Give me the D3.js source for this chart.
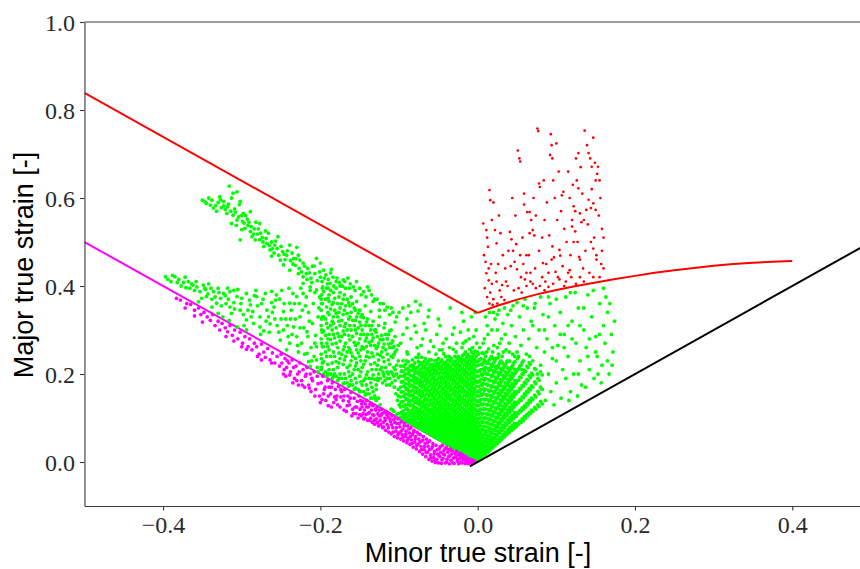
<!DOCTYPE html>
<html><head><meta charset="utf-8">
<script src="https://cdn.jsdelivr.net/npm/d3@7"></script>
<style>html,body{margin:0;padding:0;background:#fff;overflow:hidden}</style>
</head><body><svg id="chart" width="860" height="569"></svg>
<script>
// ---------- DATA ----------
const xTicks = [-0.4, -0.2, 0.0, 0.2, 0.4];
const yTicks = [0.0, 0.2, 0.4, 0.6, 0.8, 1.0];
const xLabel = "Minor true strain [-]";
const yLabel = "Major true strain [-]";

// forming limit curve (red)
const flcLeft = [[-0.5, 0.839], [0.0, 0.339]];
const flcRight = [[0,.339],[.025,.355],[.05,.369],[.075,.381],[.1,.391],[.125,.4],[.15,.408],[.175,.416],[.2,.423],[.225,.43],[.25,.436],[.275,.441],[.3,.446],[.325,.45],[.35,.453],[.375,.455],[.4,.457]];
// compression limit line (magenta) and biaxial line (black)
const magentaLine = [[-0.5, 0.5], [0.0, 0.0]];
const blackLine = [[-0.01, -0.01], [0.5, 0.5]];

// red points (above FLC)
const redPoints = [[.011,.429],[.014,.413],[.013,.489],[.012,.51],[.011,.527],[.007,.542],[.015,.618],[.016,.595],[.02,.59],[.022,.527],[.024,.497],[.026,.45],[.008,.47],[.01,.455],[.009,.395],[.012,.375],[.016,.385],[.02,.37],[.018,.405],[.024,.41],[.028,.39],[.03,.375],[.034,.368],[.031,.402],[.025,.36],[.015,.36],[.019,.357],[.036,.41],[.038,.4],[.046,.39],[.041,.523],[.043,.506],[.045,.48],[.049,.495],[.051,.708],[.054,.683],[.053,.69],[.057,.51],[.059,.61],[.059,.585],[.063,.568],[.055,.42],[.06,.415],[.042,.445],[.047,.455],[.05,.438],[.052,.395],[.056,.385],[.062,.4],[.066,.568],[.068,.55],[.07,.527],[.072,.515],[.065,.47],[.067,.43],[.07,.405],[.074,.395],[.076,.758],[.077,.752],[.078,.633],[.079,.625],[.079,.4],[.083,.452],[.085,.39],[.087,.45],[.082,.42],[.086,.41],[.09,.398],[.091,.515],[.093,.745],[.094,.72],[.092,.698],[.095,.49],[.097,.465],[.099,.432],[.1,.724],[.096,.405],[.102,.42],[.104,.482],[.105,.469],[.104,.415],[.107,.606],[.109,.614],[.108,.445],[.112,.41],[.115,.66],[.115,.43],[.117,.436],[.119,.42],[.12,.55],[.12,.535],[.122,.5],[.122,.581],[.124,.57],[.124,.524],[.125,.69],[.127,.5],[.128,.702],[.128,.622],[.129,.466],[.13,.46],[.13,.42],[.13,.565],[.132,.545],[.126,.64],[.133,.61],[.135,.55],[.136,.753],[.138,.573],[.141,.702],[.141,.596],[.144,.577],[.144,.5],[.145,.671],[.147,.737],[.147,.588],[.147,.485],[.147,.42],[.148,.51],[.15,.573],[.151,.47],[.151,.46],[.153,.671],[.152,.655],[.155,.64],[.149,.68],[.143,.69],[.139,.72],[.156,.6],[.154,.56],[.158,.53],[.157,.45],[.16,.44],[.14,.54],[.137,.48],[.134,.44],[.118,.47],[.113,.5],[.11,.53],[.106,.57],[.101,.55],[.098,.6],[.096,.64],[.088,.59],[.085,.55],[.082,.51],[.078,.48],[.074,.56],[.071,.6],[.066,.52],[.062,.47],[.058,.45],[.054,.47],[.048,.56],[.044,.6],[.039,.48],[.035,.44],[.032,.47],[.029,.52],[.027,.56],[.018,.55],[.017,.45],[.014,.44],[.023,.43],[.062,.43],[.067,.41],[.073,.44],[.09,.43],[.094,.46],[.11,.40],[.125,.405],[.135,.41],[.142,.43],[.155,.42],[.158,.48],[.16,.51],[.145,.62],[.15,.64],[.131,.67],[.121,.63],[.117,.6],[.103,.66],[.095,.69],[.084,.64]];

// magenta points (below compression line)
const magentaPoints = [[-.383,.372],[-.378,.368],[-.37,.36],[-.372,.35],[-.365,.358],[-.36,.345],[-.355,.35],[-.352,.335],[-.348,.34],[-.344,.33],[-.34,.322],[-.337,.335],[-.334,.31],[-.33,.32],[-.328,.3],[-.325,.315],[-.321,.305],[-.318,.296],[-.315,.31],[-.312,.288],[-.309,.3],[-.305,.28],[-.302,.295],[-.299,.27],[-.296,.285],[-.292,.262],[-.29,.28],[-.287,.255],[-.284,.27],[-.281,.262],[-.278,.245],[-.275,.268],[-.272,.25],[-.27,.238],[-.267,.258],[-.264,.232],[-.261,.248],[-.258,.225],[-.255,.24],[-.252,.218],[-.25,.245],[-.35,.318],[-.32,.285],[-.3,.262],[-.28,.24],[-.262,.225],[-.36,.332],[-.31,.275],[-.294,.256],[-.275,.232],
[-.247,.2],[-.245,.235],[-.243,.215],[-.24,.225],[-.238,.205],[-.236,.232],[-.233,.19],[-.231,.218],[-.229,.2],[-.226,.225],[-.224,.185],[-.222,.21],[-.219,.195],[-.217,.215],[-.215,.175],[-.213,.2],[-.21,.185],[-.208,.205],[-.206,.165],[-.204,.195],[-.201,.15],[-.199,.18],[-.197,.195],[-.195,.165],[-.193,.14],[-.191,.185],[-.189,.17],[-.187,.155],[-.185,.18],[-.183,.135],[-.181,.165],[-.179,.15],[-.177,.172],[-.175,.125],[-.173,.16],[-.171,.14],[-.169,.165],[-.167,.115],[-.165,.15],[-.163,.13],[-.161,.158],[-.159,.12],[-.157,.145],[-.155,.11],[-.153,.138],[-.151,.15],[-.228,.175],[-.212,.16],[-.2,.135],[-.19,.128],[-.18,.142],[-.17,.118],[-.16,.105],[-.235,.18],[-.244,.195],[-.22,.17],[-.196,.155],[-.186,.125],[-.174,.148],[-.164,.138],[-.156,.125],[-.152,.1],
[-.249,.225],[-.246,.21],[-.242,.23],[-.239,.198],[-.234,.215],[-.23,.185],[-.227,.205],[-.223,.175],[-.218,.2],[-.214,.168],[-.211,.19],[-.207,.15],[-.203,.178],[-.198,.142],[-.194,.17],[-.19,.15],[-.186,.17],[-.182,.148],[-.178,.13],[-.174,.165],[-.17,.15],[-.166,.128],[-.162,.145],[-.158,.11],[-.154,.125],[-.15,.108],
[-.149,.14],[-.148,.105],[-.147,.125],[-.146,.138],[-.145,.098],[-.144,.118],[-.143,.132],[-.142,.108],[-.141,.14],[-.14,.095],[-.139,.125],[-.138,.112],[-.137,.132],[-.136,.1],[-.135,.118],[-.134,.09],[-.133,.128],[-.132,.106],[-.131,.086],[-.13,.12],[-.129,.098],[-.128,.125],[-.127,.11],[-.126,.082],[-.125,.118],[-.124,.095],[-.123,.105],[-.122,.12],[-.121,.078],[-.12,.09],[-.119,.112],[-.118,.1],[-.117,.072],[-.116,.115],[-.115,.085],[-.114,.102],[-.113,.068],[-.112,.11],[-.111,.092],[-.11,.064],[-.109,.105],[-.108,.078],[-.107,.096],[-.106,.058],[-.105,.1],[-.104,.07],[-.103,.088],[-.102,.055],[-.101,.098],[-.1,.066],[-.099,.08],[-.098,.052],[-.097,.092],[-.096,.062],[-.095,.075],[-.094,.048],[-.093,.088],[-.092,.058],[-.091,.07],[-.09,.044],[-.089,.082],[-.088,.054],[-.087,.066],[-.086,.04],[-.085,.078],[-.084,.05],[-.083,.062],[-.082,.034],[-.081,.072],[-.08,.045],[-.079,.058],[-.078,.03],[-.077,.068],[-.076,.04],[-.075,.052],[-.074,.024],[-.073,.062],[-.072,.035],[-.071,.048],[-.07,.018],[-.069,.058],[-.068,.028],[-.067,.042],[-.066,.012],[-.065,.052],[-.064,.022],[-.063,.036],[-.062,.006],[-.061,.048],[-.06,.016],[-.059,.03],[-.058,.002],[-.057,.042],[-.056,.01],[-.055,.024],[-.054,-.001],[-.053,.038],[-.052,.006],[-.051,.018],[-.05,-.002],
[-.1495,.12],[-.1475,.132],[-.1455,.11],[-.1435,.1],[-.1415,.125],[-.1395,.11],[-.1375,.095],[-.1355,.13],[-.1335,.108],[-.1315,.095],[-.1295,.118],[-.1275,.09],[-.1255,.105],[-.1235,.085],[-.1215,.11],[-.1195,.08],[-.1175,.095],[-.1155,.108],[-.1135,.078],[-.1115,.098],[-.1095,.085],[-.1075,.068],[-.1055,.09],[-.1035,.078],[-.1015,.062],[-.0995,.088],[-.0975,.07],[-.0955,.055],[-.0935,.082],[-.0915,.063],[-.0895,.05],[-.0875,.075],[-.0855,.058],[-.0835,.042],[-.0815,.068],[-.0795,.052],[-.0775,.038],[-.0755,.064],[-.0735,.045],[-.0715,.028],[-.0695,.05],[-.0675,.035],[-.0655,.022],[-.0635,.045],[-.0615,.028],[-.0595,.01],[-.0575,.035],[-.0555,.018],[-.0535,.004],[-.0515,.028],
[-.049,.03],[-.048,.012],[-.047,.022],[-.046,-.003],[-.045,.038],[-.044,.008],[-.043,.026],[-.042,.016],[-.041,-.002],[-.04,.034],[-.039,.006],[-.038,.022],[-.037,.012],[-.036,-.004],[-.035,.03],[-.034,.004],[-.033,.018],[-.032,.026],[-.031,.009],[-.03,-.003],[-.029,.02],[-.028,.012],[-.027,.024],[-.026,.002],[-.025,.016],[-.024,-.004],[-.023,.008],[-.022,.02],[-.021,.013],[-.02,-.002],[-.019,.016],[-.018,.006],[-.017,.01],[-.016,-.003],[-.015,.012],[-.014,.004],[-.013,.008],[-.012,-.004],[-.011,.006],[-.01,.002],[-.009,-.002],[-.008,.005],[-.007,.001],[-.006,-.003],[-.005,.003],
[-.0495,.015],[-.0475,.035],[-.0455,.005],[-.0435,.018],[-.0415,.03],[-.0395,.0],[-.0375,.028],[-.0355,.014],[-.0335,.026],[-.0315,-.002],[-.0295,.01],[-.0275,.022],[-.0255,.006],[-.0235,.018],[-.0215,.0],[-.0195,.01],[-.0175,.014],[-.0155,.004],[-.0135,-.002],[-.0115,.008],[-.0095,.004],[-.0075,-.001],[-.0045,.001]];

// green points, scattered parts
const greenPoints = [
[-.316,.627],[-.311,.611],[-.306,.614],[-.328,.603],[-.323,.592],[-.345,.588],[-.34,.584],[-.336,.577],[-.332,.57],[-.323,.582],[-.319,.565],[-.311,.561],[-.302,.592],[-.303,.585],[-.306,.55],[-.313,.542],[-.297,.543],[-.289,.569],[-.296,.531],[-.289,.524],[-.287,.512],[-.277,.542],[-.302,.505],[-.277,.505],[-.268,.497],[-.264,.482],[-.254,.512],[-.266,.52],[-.259,.475],[-.251,.459],[-.239,.493],[-.23,.488],[-.243,.47],[-.239,.436],[-.226,.459],[-.232,.447],[-.222,.421],[-.216,.44],[-.205,.463],[-.2,.452],[-.196,.436],[-.186,.438],[-.222,.406],[-.213,.398],[-.205,.391],[-.197,.398],[-.188,.406],[-.18,.41],[-.171,.414],[-.165,.418],[-.158,.398],[-.145,.387],[-.135,.38],[-.133,.365],[-.073,.357],[-.076,.343],[-.103,.33],[-.108,.34],
[-.35,.595],[-.342,.6],[-.33,.59],[-.326,.578],[-.318,.58],[-.314,.57],[-.309,.575],[-.3,.56],[-.293,.552],[-.298,.565],[-.307,.538],[-.3,.528],[-.292,.538],[-.284,.53],[-.28,.518],[-.283,.505],[-.274,.51],[-.27,.525],[-.262,.5],[-.258,.493],[-.272,.49],[-.262,.468],[-.255,.485],[-.248,.478],[-.245,.46],[-.247,.448],[-.236,.475],[-.234,.462],[-.228,.47],[-.222,.452],[-.218,.428],[-.228,.428],[-.21,.445],[-.212,.418],[-.207,.428],[-.2,.42],[-.193,.425],[-.19,.415],[-.184,.42],[-.192,.395],[-.175,.4],[-.168,.395],[-.162,.405],[-.154,.41],[-.15,.395],[-.14,.398],[-.128,.37],[-.12,.36],[-.115,.352],[-.095,.35],[-.085,.34],[-.079,.365],[-.063,.33],[-.068,.315],[-.09,.325],[-.112,.335],[-.125,.345],
[-.347,.592],[-.338,.595],[-.333,.583],[-.327,.596],[-.321,.574],[-.317,.586],[-.313,.6],[-.308,.568],[-.304,.557],[-.299,.547],[-.295,.56],[-.291,.545],[-.288,.535],[-.285,.518],[-.282,.545],[-.279,.53],[-.276,.52],[-.273,.5],[-.269,.508],[-.265,.492],[-.261,.485],[-.257,.502],[-.253,.47],[-.25,.49],[-.246,.472],[-.242,.48],[-.238,.458],[-.235,.45],[-.231,.462],[-.227,.44],[-.224,.432],[-.22,.445],[-.217,.415],[-.214,.43],[-.211,.408],[-.208,.445],[-.204,.412],[-.201,.432],[-.198,.41],[-.195,.418],[-.191,.405],[-.187,.43],[-.183,.4],[-.179,.418],[-.176,.408],[-.172,.4],[-.169,.41],[-.163,.395],[-.156,.39],[-.148,.38],[-.142,.375],[-.138,.39],[-.131,.37],[-.124,.36],[-.118,.345],[-.11,.35],
[-.397,.421],[-.385,.421],[-.39,.41],[-.374,.408],[-.362,.402],[-.366,.395],[-.349,.402],[-.353,.387],[-.336,.387],[-.345,.376],[-.355,.364],[-.332,.361],[-.323,.383],[-.315,.387],[-.306,.376],[-.294,.383],[-.315,.352],[-.302,.345],[-.289,.357],[-.281,.376],[-.27,.383],[-.256,.38],[-.262,.362],[-.268,.345],[-.277,.33],[-.294,.323],[-.306,.307],[-.294,.3],[-.277,.307],[-.264,.314],[-.258,.325],[-.247,.342],[-.239,.361],[-.23,.376],[-.222,.383],[-.219,.355],[-.226,.33],[-.234,.307],[-.247,.3],[-.251,.277],[-.239,.27],[-.23,.285],[-.217,.296],[-.21,.315],[-.205,.262],[-.217,.247],[-.228,.25],[-.243,.255],[-.205,.232],[-.213,.217],
[-.38,.415],[-.372,.42],[-.368,.41],[-.36,.39],[-.358,.41],[-.346,.392],[-.342,.405],[-.338,.37],[-.33,.395],[-.327,.372],[-.32,.36],[-.318,.395],[-.31,.39],[-.31,.362],[-.3,.372],[-.298,.335],[-.29,.368],[-.286,.342],[-.285,.315],[-.282,.39],[-.275,.36],[-.272,.298],[-.266,.33],[-.262,.388],[-.259,.352],[-.255,.31],[-.252,.37],[-.249,.39],[-.244,.325],[-.241,.285],[-.237,.345],[-.235,.383],[-.232,.325],[-.227,.36],[-.224,.27],[-.221,.305],[-.218,.375],[-.215,.34],[-.212,.26],[-.209,.36],[-.206,.288],[-.203,.33],[-.201,.375],[-.215,.228],[-.208,.24],[-.204,.215],[-.24,.395],[-.225,.395],[-.213,.39],[-.33,.338],[-.338,.352],[-.324,.33],[-.316,.322],
[-.394,.415],[-.388,.424],[-.382,.408],[-.377,.4],[-.371,.396],[-.364,.405],[-.357,.398],[-.351,.372],[-.347,.395],[-.343,.382],[-.339,.395],[-.334,.375],[-.329,.385],[-.326,.355],[-.321,.378],[-.317,.37],[-.313,.338],[-.309,.348],[-.305,.392],[-.301,.36],[-.297,.31],[-.292,.345],[-.288,.33],[-.284,.378],[-.28,.355],[-.276,.29],[-.273,.37],[-.269,.32],[-.265,.295],[-.261,.34],[-.257,.368],[-.253,.295],[-.25,.325],[-.246,.36],[-.242,.31],[-.238,.325],[-.236,.29],[-.233,.36],[-.229,.265],[-.226,.305],[-.223,.345],[-.22,.245],[-.216,.285],[-.214,.32],[-.211,.23],[-.207,.27],[-.203,.205],[-.202,.35],[-.207,.385],
[-.129,.165],[-.127,.185],[-.124,.19],[-.121,.18],[-.118,.185],[-.115,.19],[-.112,.175],[-.109,.18],[-.106,.17],[-.104,.155],[-.102,.14],[-.105,.185],[-.126,.145],[-.13,.145],[-.124,.13],[-.1,.13],[-.101,.165],[-.12,.2],[-.116,.175],
[-.125,.33],[-.118,.315],[-.11,.3],[-.105,.318],[-.098,.27],[-.095,.29],[-.09,.305],[-.085,.28],[-.08,.31],[-.078,.295],[-.072,.265],[-.07,.28],[-.066,.3],[-.06,.275],[-.056,.262],[-.052,.29],[-.048,.31],[-.045,.255],[-.04,.28],[-.036,.26],[-.03,.305],[-.027,.27],[-.022,.295],[-.018,.32],[-.015,.275],[-.012,.3],[-.008,.33],[-.005,.285],[-.003,.34],[-.1,.34],[-.088,.355],[-.062,.345],[-.05,.325],[-.035,.35],[-.02,.34],[-.115,.28],[-.108,.26],[-.13,.3],[-.09,.25],[-.075,.245],
[.01,.33],[.012,.31],[.015,.34],[.018,.3],[.02,.34],[.022,.325],[.025,.3],[.027,.345],[.03,.28],[.032,.315],[.035,.29],[.038,.335],[.04,.27],[.043,.31],[.045,.355],[.048,.285],[.05,.25],[.053,.33],[.055,.265],[.058,.3],[.06,.37],[.062,.245],[.065,.28],[.068,.32],[.07,.23],[.072,.35],[.075,.26],[.078,.3],[.08,.22],[.083,.335],[.085,.25],[.088,.28],[.09,.2],[.092,.36],[.095,.235],[.098,.31],[.1,.18],[.102,.265],[.105,.34],[.108,.21],[.11,.29],[.112,.375],[.115,.24],[.118,.16],[.12,.32],[.122,.2],[.125,.27],[.128,.35],[.13,.23],[.132,.175],[.135,.3],[.138,.26],[.14,.38],[.142,.21],[.145,.33],[.148,.19],[.15,.285],[.152,.24],[.155,.36],[.158,.22],[.16,.31],[.162,.27],[.165,.34],[.167,.2],[.17,.29],[.172,.25],[.174,.32],[.163,.375],[.168,.36],[.157,.18],[.153,.2],[.137,.17],[.127,.15],[.116,.14],[.106,.145],[.097,.13],[.093,.16],[.086,.14],[.076,.2],[.066,.24],[.056,.21],[.047,.24],[.036,.255],[.028,.27],[.063,.35],[.05,.362],[.034,.35],[.08,.375],[.1,.37],[.124,.385],[.147,.39],[.16,.395],[.118,.385],[.09,.375],[.073,.36],[.058,.355],[.042,.345],[.025,.335],[.1,.23],[.11,.26],[.12,.28],[.13,.31],[.085,.3],[.07,.31],[.09,.33],[.105,.29],[.115,.31],[.135,.35],[.142,.28],[.165,.23],[.171,.22],[.14,.24],[.15,.25],[.155,.29],[.128,.2],[.112,.19],[.095,.26]];

// green points, dense parts read column by column: [x, [y values]]
const greenColumns = [
[-.199,[.21,.245,.28,.31,.345,.37]],[-.196,[.2,.228,.262,.298,.33,.388]],[-.192,[.195,.24,.27,.315,.352]],[-.189,[.21,.255,.29,.335,.365,.38]],[-.185,[.19,.225,.268,.3,.32,.358]],[-.182,[.2,.24,.282,.345,.372]],[-.178,[.185,.215,.26,.292,.33,.36]],[-.175,[.2,.235,.275,.31,.35,.385]],[-.171,[.178,.222,.255,.298,.335,.37]],[-.168,[.19,.24,.27,.315,.355]],[-.164,[.172,.205,.26,.288,.325,.362]],[-.161,[.185,.23,.248,.3,.34,.375]],[-.157,[.165,.21,.272,.31,.35]],[-.154,[.18,.225,.255,.292,.33,.365]],[-.15,[.16,.195,.24,.28,.318,.345]],[-.147,[.175,.215,.262,.3,.335]],[-.143,[.152,.19,.23,.275,.31,.355]],[-.14,[.165,.205,.25,.29,.325]],[-.136,[.145,.18,.222,.265,.3,.342]],[-.133,[.16,.198,.24,.282,.32]],[-.129,[.14,.175,.21,.258,.295]],[-.126,[.2,.232,.27,.31]],[-.122,[.215,.25,.288]],[-.119,[.195,.228,.268,.305]],[-.115,[.205,.245,.28]],[-.112,[.19,.222,.26,.298]],[-.108,[.118,.2,.238,.275]],[-.105,[.21,.25,.285]],[-.101,[.11,.15,.192,.23,.265]],
[-.1975,[.225,.262,.295,.33,.36,.395]],[-.1935,[.205,.25,.288,.325,.37]],[-.187,[.2,.24,.278,.31,.348,.39]],[-.18,[.195,.228,.27,.305,.338,.395]],[-.173,[.19,.245,.285,.322,.36]],[-.166,[.18,.215,.25,.3,.338,.37]],[-.159,[.175,.2,.24,.285,.322,.36]],[-.152,[.165,.21,.248,.27,.305,.338]],[-.145,[.16,.185,.222,.258,.29,.328]],[-.138,[.155,.19,.238,.272,.31]],[-.131,[.15,.188,.225,.265,.3]],[-.124,[.21,.242,.278]],[-.117,[.215,.255,.29]],[-.11,[.12,.205,.24,.27]],[-.103,[.108,.2,.22,.255]],
[-.1985,[.215,.235,.27,.3,.325,.36,.38]],[-.1905,[.2,.222,.262,.28,.305,.34,.372,.395]],[-.1835,[.195,.21,.25,.29,.315,.33,.362,.385]],[-.1765,[.19,.225,.248,.285,.32,.34,.375]],[-.1695,[.18,.2,.232,.262,.29,.308,.345,.38]],[-.1625,[.175,.195,.22,.255,.278,.31,.33,.355]],[-.1555,[.168,.19,.218,.235,.265,.3,.322,.345]],[-.1485,[.16,.182,.205,.23,.255,.29,.31,.33]],[-.1415,[.155,.175,.198,.24,.262,.282,.318]],[-.1345,[.145,.17,.19,.21,.248,.275,.29,.31]],[-.1275,[.19,.22,.245,.262,.285]],[-.1205,[.205,.238,.26,.278]],[-.1135,[.2,.232,.268,.29]],[-.1065,[.115,.195,.215,.245,.262]],
[-.098,[.102,.125,.148,.17,.195,.218]],[-.095,[.098,.116,.138,.16,.184,.206,.23]],[-.092,[.095,.11,.13,.155,.178,.2,.222]],[-.089,[.092,.12,.142,.165,.19,.212,.245]],[-.086,[.088,.105,.128,.15,.172,.198,.218]],[-.083,[.086,.1,.118,.14,.162,.185,.208,.232]],[-.08,[.083,.095,.112,.135,.158,.18,.202,.225]],[-.077,[.08,.098,.122,.145,.168,.19,.215,.26]],[-.074,[.077,.09,.108,.13,.152,.175,.198,.22]],[-.071,[.074,.088,.102,.125,.148,.17,.192,.212,.238]],[-.068,[.07,.083,.098,.118,.14,.162,.185,.205,.228]],[-.065,[.068,.08,.095,.112,.132,.155,.178,.2,.222]],[-.062,[.065,.078,.09,.108,.128,.15,.172,.195,.215,.25]],[-.059,[.062,.074,.088,.102,.12,.142,.165,.188,.21,.232]],[-.056,[.058,.07,.082,.098,.115,.135,.158,.18,.202,.222]],[-.053,[.055,.066,.079,.093,.11,.13,.152,.175,.198,.218,.245]],[-.05,[.052,.063,.075,.088,.104,.122,.145,.168,.19,.212,.235]],[-.047,[.05,.06,.072,.085,.1,.118,.138,.16,.182,.205,.228]],[-.044,[.046,.056,.068,.08,.095,.112,.132,.155,.178,.2,.222,.27]],[-.041,[.043,.053,.065,.078,.092,.108,.128,.15,.172,.195,.215,.24]],[-.038,[.04,.05,.062,.074,.088,.104,.122,.145,.168,.19,.21,.232]],[-.035,[.037,.047,.058,.07,.084,.1,.118,.14,.162,.185,.205,.228]],[-.032,[.034,.044,.055,.067,.08,.095,.112,.132,.155,.178,.2,.222,.29]],[-.029,[.031,.04,.051,.063,.076,.09,.108,.128,.15,.172,.195,.218,.24]],[-.026,[.028,.037,.048,.06,.072,.086,.102,.122,.145,.168,.19,.212,.235]],[-.023,[.025,.034,.045,.056,.068,.082,.098,.118,.14,.162,.185,.208,.23]],[-.02,[.022,.031,.042,.053,.065,.078,.094,.112,.135,.158,.18,.202,.225,.26]],[-.017,[.019,.028,.038,.049,.061,.074,.09,.108,.13,.152,.175,.198,.22,.245]],[-.014,[.016,.025,.035,.046,.058,.071,.086,.104,.125,.148,.17,.192,.215,.238]],[-.011,[.013,.022,.032,.043,.055,.068,.083,.1,.12,.142,.165,.188,.21,.232,.28]],[-.008,[.01,.019,.029,.04,.052,.065,.08,.096,.115,.138,.16,.182,.205,.228,.25]],[-.005,[.008,.016,.026,.037,.049,.062,.076,.092,.11,.132,.155,.178,.2,.222,.245]],[-.002,[.005,.014,.024,.035,.047,.06,.074,.09,.108,.128,.15,.172,.195,.218,.24,.3]],
[-.0965,[.11,.136,.16,.182,.207]],[-.0935,[.104,.127,.149,.172,.195,.218]],[-.0905,[.1,.121,.144,.168,.19,.23]],[-.0875,[.096,.114,.136,.16,.184,.205]],[-.0845,[.093,.11,.129,.152,.175,.196,.22]],[-.0815,[.09,.105,.124,.146,.17,.192,.215]],[-.0785,[.087,.104,.118,.14,.162,.185,.207,.238]],[-.0755,[.083,.1,.115,.137,.16,.182,.205,.228]],[-.0725,[.08,.096,.114,.136,.158,.18,.203,.225]],[-.0695,[.077,.092,.11,.13,.152,.174,.196,.218]],[-.0665,[.074,.088,.105,.124,.145,.166,.19,.212,.235]],[-.0635,[.071,.085,.1,.118,.14,.162,.184,.206,.228]],[-.0605,[.068,.082,.096,.114,.134,.156,.178,.2,.222]],[-.0575,[.064,.078,.093,.109,.128,.15,.172,.194,.216]],[-.0545,[.061,.074,.088,.104,.122,.142,.164,.186,.208,.23]],[-.0515,[.058,.07,.084,.099,.116,.136,.158,.18,.202,.224]],[-.0485,[.056,.067,.08,.094,.11,.128,.15,.172,.194,.216,.255]],[-.0455,[.052,.063,.076,.09,.106,.124,.144,.166,.188,.21,.232]],[-.0425,[.049,.06,.072,.086,.1,.118,.138,.16,.182,.204,.226]],[-.0395,[.046,.057,.068,.082,.096,.113,.133,.155,.177,.2,.22]],[-.0365,[.043,.053,.064,.078,.092,.109,.128,.15,.172,.195,.216,.24]],[-.0335,[.04,.05,.061,.074,.088,.104,.122,.144,.166,.188,.21,.235]],[-.0305,[.037,.046,.057,.07,.084,.099,.117,.138,.16,.183,.206,.228]],[-.0275,[.034,.043,.054,.066,.08,.095,.112,.133,.155,.178,.2,.222,.25]],[-.0245,[.031,.04,.05,.062,.075,.09,.108,.128,.15,.173,.196,.218,.24]],[-.0215,[.028,.037,.047,.059,.071,.086,.103,.123,.146,.169,.191,.214,.236]],[-.0185,[.025,.034,.044,.055,.067,.082,.099,.119,.141,.163,.186,.209,.232,.27]],[-.0155,[.022,.031,.041,.052,.064,.078,.095,.114,.136,.159,.181,.204,.227,.25]],[-.0125,[.019,.028,.038,.049,.061,.075,.091,.11,.131,.153,.176,.199,.221,.244]],[-.0095,[.016,.025,.035,.046,.058,.072,.088,.106,.126,.149,.171,.193,.216,.239]],[-.0065,[.013,.022,.032,.043,.055,.069,.084,.101,.121,.143,.166,.189,.211,.234,.26]],[-.0035,[.011,.02,.03,.041,.053,.067,.082,.099,.118,.139,.161,.183,.206,.229,.252]],[-.0005,[.009,.018,.028,.039,.051,.065,.08,.097,.116,.137,.159,.181,.205,.228,.25]],
[-.0972,[.113,.136,.159,.182,.206]],[-.0942,[.107,.127,.149,.172,.195,.218]],[-.0912,[.102,.12,.142,.166,.189,.211]],[-.0882,[.105,.131,.153,.177,.201,.228]],[-.0852,[.096,.116,.139,.161,.185,.208]],[-.0822,[.093,.109,.129,.151,.173,.196,.22]],[-.0792,[.089,.103,.123,.146,.169,.191,.213]],[-.0762,[.089,.11,.133,.156,.179,.202,.237]],[-.0732,[.083,.099,.119,.141,.163,.186,.209]],[-.0702,[.081,.095,.113,.136,.159,.181,.202,.225]],[-.0672,[.076,.09,.108,.129,.151,.173,.195,.216]],[-.0642,[.074,.087,.103,.122,.143,.166,.189,.211]],[-.0612,[.071,.084,.099,.118,.139,.161,.183,.205,.232]],[-.0582,[.068,.081,.095,.111,.131,.153,.176,.199,.221]],[-.0552,[.064,.076,.09,.106,.125,.146,.169,.191,.212]],[-.0522,[.06,.072,.086,.101,.12,.141,.163,.186,.208,.231]],[-.0492,[.057,.069,.081,.096,.113,.133,.156,.179,.201,.223]],[-.0462,[.055,.066,.078,.092,.109,.128,.149,.171,.193,.216]],[-.0432,[.051,.062,.074,.087,.103,.122,.143,.166,.189,.211,.246]],[-.0402,[.048,.059,.071,.085,.1,.118,.139,.161,.183,.205,.227]],[-.0372,[.045,.056,.068,.081,.096,.113,.133,.156,.179,.2,.221]],[-.0342,[.042,.052,.064,.077,.092,.109,.129,.151,.173,.195,.216]],[-.0312,[.039,.049,.061,.073,.087,.103,.122,.143,.166,.189,.211,.256]],[-.0282,[.035,.045,.057,.069,.083,.099,.118,.139,.161,.183,.206,.229]],[-.0252,[.032,.042,.054,.066,.079,.094,.112,.133,.156,.179,.201,.223]],[-.0222,[.029,.039,.05,.062,.075,.09,.108,.129,.151,.173,.196,.219]],[-.0192,[.026,.036,.047,.059,.071,.086,.103,.123,.146,.169,.191,.213,.242]],[-.0162,[.023,.033,.043,.055,.067,.082,.099,.119,.141,.163,.186,.209,.232]],[-.0132,[.02,.03,.04,.052,.064,.078,.095,.114,.136,.159,.181,.203,.226]],[-.0102,[.017,.027,.037,.049,.061,.075,.091,.11,.131,.153,.176,.199,.221,.256]],[-.0072,[.014,.024,.034,.046,.058,.072,.088,.105,.126,.149,.171,.193,.216,.239]],[-.0042,[.012,.021,.031,.043,.055,.069,.084,.101,.121,.143,.166,.189,.211,.233]],[-.0012,[.009,.019,.029,.041,.053,.067,.082,.099,.118,.139,.161,.183,.206,.229,.27]],
[.001,[.006,.018,.03,.044,.058,.073,.09,.108,.128,.15,.172,.195,.22,.245]],[.004,[.01,.022,.035,.05,.065,.082,.1,.12,.142,.165,.188,.21,.235]],[.007,[.014,.026,.04,.055,.072,.09,.11,.132,.155,.178,.2,.225,.27]],[.01,[.018,.031,.046,.062,.08,.1,.12,.142,.165,.19,.215,.24]],[.013,[.022,.036,.052,.07,.088,.108,.13,.152,.175,.2,.225,.29]],[.016,[.027,.042,.058,.076,.096,.118,.14,.162,.185,.21,.235]],[.019,[.032,.048,.065,.084,.105,.126,.148,.172,.196,.22,.25]],[.022,[.037,.054,.072,.092,.112,.135,.158,.182,.205,.23]],[.025,[.042,.06,.08,.1,.122,.145,.168,.192,.215,.26]],[.028,[.047,.066,.088,.108,.13,.152,.175,.2,.225]],[.031,[.052,.072,.094,.116,.138,.16,.185,.21,.24]],[.034,[.057,.078,.1,.122,.145,.168,.192,.218]],[.037,[.062,.084,.106,.13,.152,.176,.2,.228]],[.04,[.067,.09,.112,.136,.16,.184,.208,.25]],[.043,[.072,.095,.118,.142,.166,.19,.215]],[.046,[.076,.1,.124,.148,.172,.198,.225]],[.049,[.08,.104,.13,.155,.18,.205]],[.052,[.085,.11,.135,.16,.186,.212,.24]],[.055,[.09,.115,.14,.166,.192,.22]],[.058,[.094,.12,.146,.172,.2,.23]],[.061,[.1,.125,.152,.178,.206]],[.064,[.105,.13,.158,.185,.215]],[.067,[.11,.136,.164,.192,.222]],[.07,[.115,.142,.17,.198]],[.074,[.12,.148,.178,.21]],[.078,[.126,.155,.186]],[.082,[.132,.165,.198]],
[.0025,[.012,.024,.037,.051,.066,.082,.099,.117,.138,.16,.183,.207,.232,.26]],[.0055,[.016,.028,.042,.057,.073,.091,.109,.13,.152,.174,.197,.221,.248]],[.0085,[.02,.033,.048,.064,.081,.099,.119,.141,.163,.186,.208,.232,.28]],[.0115,[.024,.038,.054,.07,.089,.109,.13,.152,.176,.2,.224,.25]],[.0145,[.029,.044,.06,.077,.096,.116,.138,.161,.185,.208,.232]],[.0175,[.034,.05,.066,.085,.104,.125,.147,.17,.194,.217,.24]],[.0205,[.039,.055,.073,.092,.112,.134,.156,.18,.203,.226,.265]],[.0235,[.044,.061,.079,.099,.12,.142,.165,.188,.212,.236]],[.0265,[.049,.067,.086,.106,.127,.15,.173,.197,.22,.245]],[.0295,[.054,.072,.092,.113,.135,.158,.181,.205,.23]],[.0325,[.059,.078,.099,.12,.142,.165,.189,.213,.25]],[.0355,[.064,.084,.105,.127,.15,.173,.197,.222]],[.0385,[.069,.09,.111,.134,.157,.18,.204,.23]],[.0415,[.073,.095,.117,.14,.164,.188,.212]],[.0445,[.078,.1,.123,.147,.171,.195,.22,.245]],[.0475,[.083,.106,.13,.154,.178,.202,.228]],[.0505,[.088,.112,.136,.16,.185,.21,.235]],[.0535,[.093,.117,.142,.167,.193,.218]],[.0565,[.098,.123,.148,.174,.2,.226]],[.0595,[.103,.128,.155,.181,.208]],[.0625,[.108,.134,.161,.188,.218]],[.0655,[.113,.14,.167,.196,.226]],[.0685,[.118,.145,.173,.202]],[.0725,[.124,.152,.182,.212]],[.0765,[.13,.16,.19]],[.08,[.138,.17,.205]],
[.0018,[.012,.024,.037,.051,.065,.081,.099,.118,.139,.161,.183,.207,.232]],[.0048,[.016,.028,.042,.057,.073,.091,.11,.131,.153,.176,.199,.222]],[.0078,[.02,.033,.047,.063,.081,.1,.121,.143,.166,.189,.212,.247]],[.0108,[.024,.038,.054,.071,.09,.11,.131,.153,.177,.202,.227]],[.0138,[.029,.044,.061,.079,.098,.119,.141,.163,.187,.212,.257]],[.0168,[.034,.05,.067,.086,.107,.129,.151,.173,.197,.222]],[.0198,[.04,.056,.074,.094,.115,.137,.16,.184,.208,.235]],[.0228,[.045,.063,.082,.102,.123,.146,.17,.193,.217]],[.0258,[.051,.07,.09,.111,.133,.156,.18,.203,.237]],[.0288,[.056,.077,.098,.119,.141,.163,.187,.212]],[.0318,[.062,.083,.105,.127,.149,.172,.197,.225]],[.0348,[.067,.089,.111,.133,.156,.18,.205]],[.0378,[.073,.095,.118,.141,.164,.188,.214]],[.0408,[.078,.101,.124,.148,.172,.196,.229]],[.0438,[.083,.106,.13,.154,.178,.202]],[.0468,[.088,.112,.136,.16,.185,.211]]];

// ---------- CHART ----------
const W = 860, H = 569;
const x = d3.scaleLinear().domain([-0.5, 0.4865]).range([84.45, 860.3]);
const y = d3.scaleLinear().domain([-0.1, 1.0]).range([506, 22]);

const svg = d3.select('#chart');
svg.append('rect').attr('width', W).attr('height', H).attr('fill', '#fff');
svg.append('defs').append('clipPath').attr('id', 'clip')
  .append('rect').attr('x', x.range()[0]).attr('y', y.range()[1])
  .attr('width', x.range()[1] - x.range()[0]).attr('height', y.range()[0] - y.range()[1]);

const plot = svg.append('g').attr('clip-path', 'url(#clip)');
const line = d3.line().x(d => x(d[0])).y(d => y(d[1]));

plot.append('path').datum(magentaLine).attr('d', line)
  .attr('fill', 'none').attr('stroke', '#ff00ff').attr('stroke-width', 2);

const greenAll = greenPoints.concat(greenColumns.flatMap(c => c[1].map(v => [c[0], v])));

function scatter(data, color, r) {
  plot.append('g').selectAll('circle').data(data).join('circle')
    .attr('cx', d => x(d[0])).attr('cy', d => y(d[1])).attr('r', r).attr('fill', color);
}
scatter(greenAll, '#00ff00', 1.9);
scatter(magentaPoints, '#ff00ff', 1.85);
scatter(redPoints, '#ff0000', 1.35);

plot.append('path').datum(flcLeft).attr('d', line)
  .attr('fill', 'none').attr('stroke', '#ff0000').attr('stroke-width', 2);
plot.append('path').datum(flcRight).attr('d', line)
  .attr('fill', 'none').attr('stroke', '#ff0000').attr('stroke-width', 2);
plot.append('path').datum(blackLine).attr('d', line)
  .attr('fill', 'none').attr('stroke', '#000').attr('stroke-width', 2);

// axes
const fmt = d3.format('.1f');
const gx = svg.append('g').attr('transform', `translate(0,${y.range()[0]})`)
  .call(d3.axisBottom(x).tickValues(xTicks).tickFormat(fmt).tickSize(4.5).tickSizeOuter(0).tickPadding(5));
const gy = svg.append('g').attr('transform', `translate(${x.range()[0]},0)`)
  .call(d3.axisLeft(y).tickValues(yTicks).tickFormat(fmt).tickSize(4.5).tickSizeOuter(0).tickPadding(5));
[gx, gy].forEach(g => {
  g.select('.domain').attr('stroke', '#3a3a3a').attr('stroke-width', 1.1);
  g.selectAll('.tick line').attr('stroke', '#3a3a3a').attr('stroke-width', 1.1);
  g.selectAll('.tick text').attr('font-family', '"Liberation Serif", "Times New Roman", serif')
    .attr('font-size', 24).attr('fill', '#2a2a2a');
});
gy.selectAll('.tick text').attr('dy', '0.34em');
// top spine
svg.append('line').attr('x1', x.range()[0]).attr('x2', x.range()[1])
  .attr('y1', y.range()[1]).attr('y2', y.range()[1])
  .attr('stroke', '#3a3a3a').attr('stroke-width', 1.1);

svg.append('text').attr('x', 478).attr('y', 562).attr('text-anchor', 'middle')
  .attr('font-family', '"Liberation Sans", Arial, sans-serif').attr('font-size', 27)
  .attr('fill', '#000').text(xLabel);
svg.append('text').attr('transform', 'translate(33,265) rotate(-90)').attr('text-anchor', 'middle')
  .attr('font-family', '"Liberation Sans", Arial, sans-serif').attr('font-size', 27)
  .attr('fill', '#000').text(yLabel);
</script></body></html>
